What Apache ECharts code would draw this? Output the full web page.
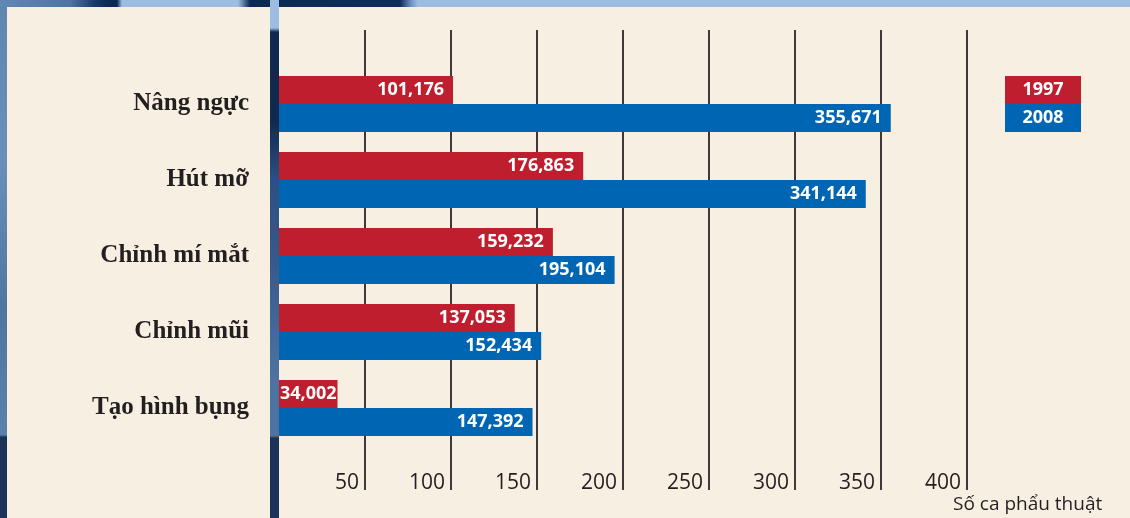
<!DOCTYPE html>
<html>
<head>
<meta charset="utf-8">
<script src="https://cdn.jsdelivr.net/npm/echarts@6/dist/echarts.min.js"></script>
<style>
  html, body { margin: 0; padding: 0; width: 1130px; height: 518px; overflow: hidden; background: #5a80ab; }
  .bg { position: absolute; }
  #chart { position: absolute; left: 0; top: 0; width: 1130px; height: 518px; }
</style>
</head>
<body>
<div class="bg" style="left:0;top:0;width:1130px;height:8px;background:linear-gradient(to right,#6088b2 0px,#4f76a3 70px,#163a66 95px,#0b2a53 110px,#0b2a53 117px,#9dbde0 122px,#9dbde0 238px,#0b2a53 250px,#0d2c57 400px,#6b93c0 411px,#9dbde0 418px,#9dbde0 1130px);"></div>
<div class="bg" style="left:0;top:7px;width:8px;height:511px;background:linear-gradient(to bottom,#5e86b1 0px,#6a90ba 150px,#4f76a3 300px,#5a80ab 428px,#1b3259 430px,#1b3259 511px);"></div>
<div class="bg" style="left:270px;top:0;width:9px;height:518px;background:linear-gradient(to bottom,#9dbde0 0px,#9dbde0 28px,#0f2a4c 32px,#0f2a4c 120px,#2c5080 180px,#36598a 260px,#4d74a0 380px,#4d74a0 436px,#1b3259 438px,#1b3259 518px);"></div>
<div class="bg" style="left:7px;top:7px;width:263px;height:511px;background:#f7efe2;"></div>
<div class="bg" style="left:279px;top:7px;width:851px;height:511px;background:#f7efe2;"></div>
<div id="chart"></div>
<script>
const categories = ['Nâng ngực', 'Hút mỡ', 'Chỉnh mí mắt', 'Chỉnh mũi', 'Tạo hình bụng'];
const seriesNames = ['1997', '2008'];
const values1997 = [101176, 176863, 159232, 137053, 34002];
const values2008 = [355671, 341144, 195104, 152434, 147392];
const tickStep = 50000;
const axisMax = 400000;
const axisTitle = 'Số ca phẩu thuật';

const RED = '#be1e2d';
const BLUE = '#0066b3';
const TEXT = '#231f20';
const SANS = '"Open Sans", "Noto Sans", sans-serif';
const BOLD_SANS = '"Open Sans", "Noto Sans", sans-serif';
const SERIF = '"Liberation Serif", "DejaVu Serif", serif';

const fmt = v => v.toLocaleString('en-US');
// short bars get their value label centred so it stays inside the bar
const toItems = arr => arr.map(v => v < 50000 ? { value: v, label: { position: 'inside' } } : v);

const barLabel = { show: true, position: 'insideRight', distance: 9, color: '#fff', fontSize: 18, fontWeight: 'bold', fontFamily: BOLD_SANS, formatter: p => fmt(p.value) };

const chart = echarts.init(document.getElementById('chart'), null, { renderer: 'canvas' });
chart.setOption({
  backgroundColor: 'transparent',
  animation: false,
  grid: [
    { left: 279, right: 163, top: 30, bottom: 28 },
    { left: 279, right: 163, top: 66, height: 380 }
  ],
  legend: {
    data: seriesNames,
    orient: 'vertical',
    left: 995,
    top: 71,
    itemGap: 0,
    itemWidth: 0,
    itemHeight: 0,
    selectedMode: false,
    icon: 'rect',
    formatter: name => '{s' + name + '|' + name + '}',
    textStyle: {
      padding: 0,
      rich: {
        s1997: { backgroundColor: RED, color: '#fff', width: 76, height: 27, lineHeight: 27, align: 'center', fontSize: 18, fontWeight: 'bold', fontFamily: BOLD_SANS },
        s2008: { backgroundColor: BLUE, color: '#fff', width: 76, height: 29, lineHeight: 29, align: 'center', fontSize: 18, fontWeight: 'bold', fontFamily: BOLD_SANS }
      }
    }
  },
  xAxis: [
    {
      gridIndex: 0, type: 'value', min: 0, max: axisMax, interval: tickStep,
      axisLine: { show: false }, axisTick: { show: false },
      splitLine: { show: true, showMinLine: false, lineStyle: { color: '#3d3939', width: 2 } },
      axisLabel: {
        showMinLabel: false, align: 'right', verticalAlign: 'bottom', margin: 4,
        padding: [0, 6, 0, 0], color: TEXT, fontSize: 21, fontFamily: SANS,
        formatter: v => String(v / 1000)
      },
      name: axisTitle, nameLocation: 'end', nameGap: -14,
      nameTextStyle: { align: 'left', verticalAlign: 'top', fontSize: 19, color: TEXT, fontFamily: SANS, padding: [5, 0, 0, 0] }
    },
    {
      gridIndex: 1, type: 'value', min: 0, max: axisMax, interval: tickStep, show: false,
      splitLine: { show: false }
    }
  ],
  yAxis: [
    { gridIndex: 0, type: 'value', min: 0, max: 1, show: false, splitLine: { show: false } },
    {
      gridIndex: 1, type: 'category', data: categories, inverse: true,
      axisLine: { show: false }, axisTick: { show: false },
      axisLabel: { margin: 30, color: TEXT, fontSize: 25, fontWeight: 'bold', fontFamily: SERIF }
    }
  ],
  series: [
    {
      name: seriesNames[0], type: 'bar', xAxisIndex: 1, yAxisIndex: 1, data: toItems(values1997),
      barWidth: 28, barGap: '0%', itemStyle: { color: RED }, label: barLabel
    },
    {
      name: seriesNames[1], type: 'bar', xAxisIndex: 1, yAxisIndex: 1, data: toItems(values2008),
      barWidth: 28, barGap: '0%', itemStyle: { color: BLUE }, label: barLabel
    }
  ]
});
</script>
</body>
</html>
